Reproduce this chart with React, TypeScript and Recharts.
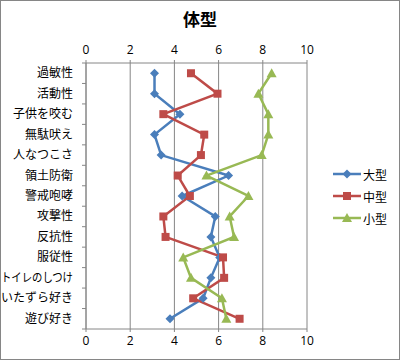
import React from 'react'
import { LineChart, Line, XAxis, YAxis, CartesianGrid } from 'recharts'

const categories = [
  '過敏性',
  '活動性',
  '子供を咬む',
  '無駄吠え',
  '人なつこさ',
  '領土防衛',
  '警戒咆哮',
  '攻撃性',
  '反抗性',
  '服従性',
  'トイレのしつけ',
  'いたずら好き',
  '遊び好き',
]
const large = [3.1, 3.1, 4.25, 3.1, 3.4, 6.45, 4.35, 5.85, 5.65, 6.05, 5.65, 5.3, 3.8]
const medium = [4.75, 5.95, 3.5, 5.35, 5.2, 4.15, 4.7, 3.5, 3.6, 6.2, 6.25, 4.85, 6.95]
const small = [8.4, 7.8, 8.25, 8.25, 7.95, 5.45, 7.35, 6.5, 6.7, 4.4, 4.75, 6.15, 6.35]
const xTicks = [0, 2, 4, 6, 8, 10]
const seriesNames = ['大型', '中型', '小型']

const data = categories.map((name, i) => ({
  name,
  large: large[i],
  medium: medium[i],
  small: small[i],
}))

const W = 400
const H = 360
const PLOT_LEFT = 86
const PLOT_TOP = 63
const PLOT_RIGHT = 307
const PLOT_BOTTOM = 329
const BAND = (PLOT_BOTTOM - PLOT_TOP) / categories.length

const AXIS = '#868686'
const BLUE = '#4A7EBB'
const RED = '#BE4B48'
const GREEN = '#98B954'
const JP = '"Noto Sans CJK JP", "Noto Sans", sans-serif'
const NUM = '"Open Sans", "Noto Sans", sans-serif'

const Diamond = ({ cx, cy, key }: any) => (
  <path key={key} d={`M${cx},${cy - 4.5}L${cx + 4.5},${cy}L${cx},${cy + 4.5}L${cx - 4.5},${cy}Z`} fill={BLUE} />
)
const Square = ({ cx, cy, key }: any) => (
  <rect key={key} x={cx - 4} y={cy - 4} width={8} height={8} fill={RED} />
)
const Triangle = ({ cx, cy, key }: any) => (
  <path key={key} d={`M${cx},${cy - 5}L${cx + 5},${cy + 4}L${cx - 5},${cy + 4}Z`} fill={GREEN} />
)

const CategoryTick = ({ x, y, payload, index }: any) => {
  const long = String(payload.value).length > 6
  return (
    <g>
      <text
        x={x}
        y={y}
        dy={4}
        textAnchor="end"
        fontSize={12}
        fontFamily={JP}
        fill="#000"
        textLength={long ? 72 : undefined}
        lengthAdjust="spacingAndGlyphs"
      >
        {payload.value}
      </text>
      {index === 0 && (
        <line x1={PLOT_LEFT - 4} x2={PLOT_LEFT} y1={y - BAND / 2} y2={y - BAND / 2} stroke={AXIS} />
      )}
      <line x1={PLOT_LEFT - 4} x2={PLOT_LEFT} y1={y + BAND / 2} y2={y + BAND / 2} stroke={AXIS} />
    </g>
  )
}

const legendItems = [
  { label: seriesNames[0], color: BLUE, Marker: Diamond },
  { label: seriesNames[1], color: RED, Marker: Square },
  { label: seriesNames[2], color: GREEN, Marker: Triangle },
]

export default function App() {
  return (
    <div style={{ position: 'absolute', left: 0, top: 0, width: W, height: H, background: '#fff' }}>
      <div
        style={{
          position: 'absolute',
          left: 0,
          top: 4,
          width: W,
          textAlign: 'center',
          fontFamily: JP,
          fontWeight: 'bold',
          fontSize: 17,
          lineHeight: '30px',
        }}
      >
        体型
      </div>
      <LineChart
        width={W}
        height={H}
        data={data}
        layout="vertical"
        margin={{ top: PLOT_TOP - 30, right: W - PLOT_RIGHT, bottom: H - PLOT_BOTTOM - 30, left: 0 }}
      >
        <CartesianGrid horizontal={false} stroke={AXIS} xAxisId="top" yAxisId="cat" />
        <XAxis
          xAxisId="top"
          type="number"
          orientation="top"
          domain={[0, 10]}
          ticks={xTicks}
          height={30}
          stroke={AXIS}
          tickSize={3}
          tickMargin={6}
          tick={{ fill: '#000', fontSize: 12, fontFamily: NUM }}
        />
        <XAxis
          xAxisId="bottom"
          type="number"
          orientation="bottom"
          domain={[0, 10]}
          ticks={xTicks}
          height={30}
          stroke={AXIS}
          tickSize={3}
          tickMargin={4}
          tick={{ fill: '#000', fontSize: 12, fontFamily: NUM }}
        />
        <YAxis
          yAxisId="cat"
          type="category"
          dataKey="name"
          scale="band"
          width={PLOT_LEFT}
          stroke={AXIS}
          tickLine={false}
          tickSize={0}
          tickMargin={13}
          interval={0}
          tick={<CategoryTick />}
        />
        <Line
          xAxisId="top"
          yAxisId="cat"
          dataKey="large"
          name={seriesNames[0]}
          stroke={BLUE}
          strokeWidth={2.5}
          dot={Diamond}
          isAnimationActive={false}
        />
        <Line
          xAxisId="top"
          yAxisId="cat"
          dataKey="medium"
          name={seriesNames[1]}
          stroke={RED}
          strokeWidth={2.5}
          dot={Square}
          isAnimationActive={false}
        />
        <Line
          xAxisId="bottom"
          yAxisId="cat"
          dataKey="small"
          name={seriesNames[2]}
          stroke={GREEN}
          strokeWidth={2.5}
          dot={Triangle}
          isAnimationActive={false}
        />
      </LineChart>
      <div style={{ position: 'absolute', left: 332, top: 163 }}>
        {legendItems.map(({ label, color, Marker }) => (
          <div key={label} style={{ display: 'flex', alignItems: 'center', height: 22 }}>
            <svg width={30} height={12}>
              <line x1={1} x2={29} y1={6} y2={6} stroke={color} strokeWidth={2.5} />
              <Marker cx={15} cy={6} />
            </svg>
            <span style={{ fontFamily: JP, fontSize: 12, marginLeft: 1 }}>{label}</span>
          </div>
        ))}
      </div>
      <div
        style={{
          position: 'absolute',
          left: 0,
          top: 0,
          width: W,
          height: H,
          boxSizing: 'border-box',
          border: `1px solid ${AXIS}`,
          pointerEvents: 'none',
        }}
      />
    </div>
  )
}
